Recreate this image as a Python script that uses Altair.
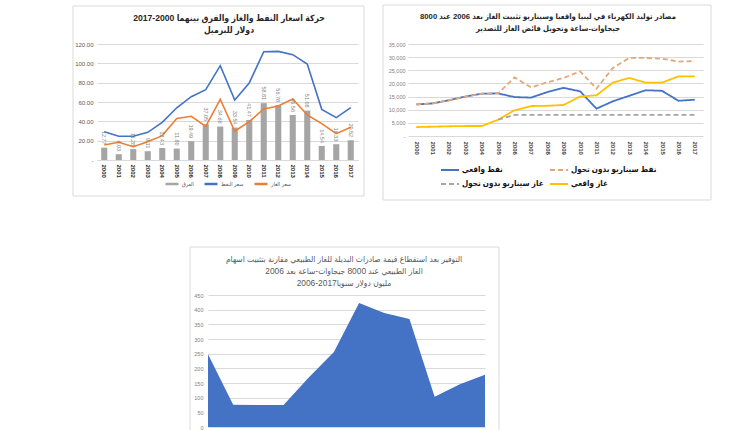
import altair as alt
import pandas as pd

# ---------------- Chart 1: oil / gas prices and the difference ----------------
years = list(range(2000, 2018))
oil_price = [29.3, 24.5, 24.6, 28.6, 39.0, 54.0, 65.5, 72.8, 97.6, 62.0, 79.7, 112.0, 112.4, 109.0, 99.3, 52.4, 43.8, 54.1]
gas_price = [15.5, 18.3, 13.8, 19.0, 25.2, 43.0, 45.2, 34.8, 62.8, 29.7, 39.7, 52.8, 55.9, 63.1, 46.6, 37.6, 27.2, 33.8]
price_diff = [12.77, 6.03, 11.28, 9.11, 12.43, 11.80, 19.49, 37.05, 34.66, 33.54, 41.47, 58.81, 56.78, 46.56, 51.08, 14.54, 16.33, 20.52]
series1 = ["الفرق", "سعر النفط", "سعر الغاز"]
colors1 = ["#a5a5a5", "#4472c4", "#ed7d31"]
y1_ticks = [0, 20, 40, 60, 80, 100, 120]
title1 = ["حركة اسعار النفط والغاز والفرق بينهما 2000-2017", "دولار للبرميل"]

# ---------------- Chart 2: electricity generation sources ----------------
oil_actual = [12000, 12400, 13600, 15000, 16100, 16200, 14800, 14600, 16700, 18300, 17000, 10400, 13200, 15300, 17400, 17200, 13400, 13800]
oil_scenario = [12000, 12400, 13600, 15000, 16100, 16200, 22300, 18500, 20400, 22100, 24600, 18000, 25900, 29700, 29700, 29400, 28300, 28500]
gas_actual = [3400, 3550, 3700, 3800, 3800, 6200, 9800, 11400, 11500, 11800, 15000, 15500, 20300, 22100, 20300, 20300, 22700, 22700]
gas_scenario_years = [2005, 2006, 2007, 2008, 2009, 2010, 2011, 2012, 2013, 2014, 2015, 2016, 2017]
gas_scenario = [6200, 8000, 8000, 8000, 8000, 8000, 8000, 8000, 8000, 8000, 8000, 8000, 8000]
series2 = ["نفط واقعي", "نفط سيناريو بدون تحول", "غاز سيناريو بدون تحول", "غاز واقعي"]
colors2 = ["#4472c4", "#e2a77c", "#a5a5a5", "#ffc000"]
dashes2 = [[1, 0], [5, 3], [5, 3], [1, 0]]
y2_ticks = [0, 5000, 10000, 15000, 20000, 25000, 30000, 35000]
title2 = ["مصادر توليد الكهرباء في ليبيا واقعيا وسيناريو تثبيت الغاز بعد 2006 عند 8000",
          "جيجاوات-ساعة وتحويل فائض الغاز للتصدير"]

# ---------------- Chart 3: savings ----------------
sav_years = [2006, 2007, 2008, 2009, 2010, 2011, 2012, 2013, 2014, 2015, 2016, 2017]
savings = [248, 76, 75, 75, 169, 256, 423, 389, 368, 103, 146, 178]
y3_ticks = [0, 50, 100, 150, 200, 250, 300, 350, 400, 450]
title3 = ["التوفير بعد استقطاع قيمة صادرات البديلة للغاز الطبيعي مقارنة بتثبيت اسهام",
          "الغاز الطبيعي عند 8000 جيجاوات-ساعة بعد 2006",
          "مليون دولار سنويا2017-2006"]

FONT = "Liberation Sans, DejaVu Sans Condensed, DejaVu Sans"
GRID = "#d9d9d9"
one = pd.DataFrame({"f": [0]})


def frame(x1, x2, y1, y2):
    return alt.Chart(one).mark_rect(fillOpacity=0, stroke=GRID, strokeWidth=1).encode(
        x=alt.value(x1), x2=alt.value(x2), y=alt.value(y1), y2=alt.value(y2))


def tline(txt, x, y, size, weight, color):
    return alt.Chart(one).mark_text(text=txt, fontSize=size, fontWeight=weight, color=color,
                                    align="center", baseline="middle", font=FONT).encode(
        x=alt.value(x), y=alt.value(y))


# ---------- chart 1 ----------
df1 = pd.DataFrame({"year": years, "diff": price_diff})
df1l = pd.concat([
    pd.DataFrame({"year": years, "value": oil_price, "series": series1[1]}),
    pd.DataFrame({"year": years, "value": gas_price, "series": series1[2]}),
])
x1 = alt.X("year:O", scale=alt.Scale(type="band", paddingInner=0.58, paddingOuter=0.29),
           axis=alt.Axis(title=None, labelAngle=90, labelFontSize=6, labelFontWeight="bold",
                         labelColor="#262626", ticks=False, domainColor=GRID, labelPadding=4))
ax1 = alt.Axis(title=None, values=y1_ticks,
               labelExpr="datum.value == 0 ? '-' : format(datum.value, '.2f')",
               grid=True, gridColor=GRID, domain=False, ticks=False, labelFontSize=6,
               labelColor="#595959", labelPadding=4)
ys1 = alt.Scale(domain=[0, 120])

bars = alt.Chart(df1).mark_bar(color=colors1[0]).encode(
    x=x1, y=alt.Y("diff:Q", scale=ys1, axis=ax1))
lines1 = alt.Chart(df1l).mark_line(strokeWidth=1.6).encode(
    x=x1, y=alt.Y("value:Q", scale=ys1, axis=ax1),
    color=alt.Color("series:N", scale=alt.Scale(domain=series1, range=colors1),
                    legend=alt.Legend(title=None, orient="none", legendX=67, legendY=132,
                                      direction="horizontal", symbolType="stroke", symbolSize=169,
                                      symbolStrokeWidth=2.5, labelFontSize=5.5, labelColor="#595959",
                                      labelFont=FONT, columnPadding=5, labelOffset=2, padding=0)))
labels1 = alt.Chart(df1).mark_text(angle=90, align="right", baseline="middle", dx=-3,
                                   fontSize=5.5, color="#7f7f7f", font="Liberation Sans").encode(
    x=x1, y=alt.Y("diff:Q", scale=ys1, axis=ax1), text=alt.Text("diff:Q", format=".2f"))

c1 = alt.layer(
    frame(-24, 267, -38, 152), bars, lines1, labels1,
    tline(title1[0], 132, -26, 8.6, "bold", "#262626"),
    tline(title1[1], 132, -14, 8.6, "bold", "#262626"),
).properties(width=261, height=116)

# ---------- chart 2 ----------
df2 = pd.concat([
    pd.DataFrame({"year": years, "value": oil_actual, "series": series2[0]}),
    pd.DataFrame({"year": years, "value": oil_scenario, "series": series2[1]}),
    pd.DataFrame({"year": gas_scenario_years, "value": gas_scenario, "series": series2[2]}),
    pd.DataFrame({"year": years, "value": gas_actual, "series": series2[3]}),
])
x2 = alt.X("year:O", axis=alt.Axis(title=None, labelAngle=90, labelFontSize=6, labelColor="#404040",
                                   labelFontWeight="bold", ticks=False, domain=False, labelPadding=5))
ax2 = alt.Axis(title=None, values=y2_ticks,
               labelExpr="datum.value == 0 ? '-' : format(datum.value, ',')",
               grid=True, gridColor=GRID, domain=False, ticks=False, labelFontSize=5.5,
               labelColor="#7f7f7f", labelPadding=3)
leg2 = alt.Legend(title=None, orient="none", legendX=32, legendY=116, columns=2,
                  direction="horizontal",
                  symbolType="stroke", symbolSize=324, symbolStrokeWidth=2,
                  labelFontSize=8, labelFontWeight="bold", labelColor="#111111", labelFont=FONT,
                  columnPadding=2, rowPadding=0, labelOffset=2, padding=0)
col2 = alt.Color("series:N", scale=alt.Scale(domain=series2, range=colors2), legend=leg2)
dash2 = alt.StrokeDash("series:N", scale=alt.Scale(domain=series2, range=dashes2), legend=leg2)


def line2(name):
    return alt.Chart(df2).transform_filter(alt.datum.series == name).mark_line(strokeWidth=1.8).encode(
        x=x2, y=alt.Y("value:Q", scale=alt.Scale(domain=[0, 35000]), axis=ax2),
        color=col2, strokeDash=dash2)


c2 = alt.layer(
    frame(-25, 303, -39, 156),
    line2(series2[0]), line2(series2[3]), line2(series2[2]), line2(series2[1]),
    tline(title2[0], 140, -27, 7.7, "bold", "#262626"),
    tline(title2[1], 140, -15, 7.7, "bold", "#262626"),
).properties(width=295, height=92)

# ---------- chart 3 ----------
df3 = pd.DataFrame({"year": sav_years, "saving": savings})
area3 = alt.Chart(df3).mark_area(color="#4472c4", opacity=1).encode(
    x=alt.X("year:O", scale=alt.Scale(type="point", padding=0), axis=None),
    y=alt.Y("saving:Q", scale=alt.Scale(domain=[0, 450]),
            axis=alt.Axis(title=None, values=y3_ticks, grid=True, gridColor=GRID, domain=False,
                          ticks=False, labelFontSize=5.5, labelColor="#7f7f7f", labelPadding=5)))
c3 = alt.layer(
    frame(-18, 291, -48, 150), area3,
    tline(title3[0], 136, -36, 8.4, "normal", "#595959"),
    tline(title3[1], 136, -24, 8.4, "normal", "#595959"),
    tline(title3[2], 136, -12, 8.4, "normal", "#595959"),
).properties(width=277, height=132)

spacer = alt.Chart(one).mark_rect(color="white").encode(
    x=alt.value(0), x2=alt.value(1), y=alt.value(0), y2=alt.value(1)).properties(width=1, height=1)

row1 = alt.hconcat(c1, c2, spacing=17).resolve_scale(
    color="independent", strokeDash="independent").resolve_legend(
    color="independent", strokeDash="independent")
row2 = alt.hconcat(spacer, c3, spacing=91)
chart = alt.vconcat(row1, row2, spacing=45).resolve_scale(
    color="independent", strokeDash="independent").resolve_legend(
    color="independent", strokeDash="independent").properties(
    padding={"left": 72, "top": 4, "right": 0, "bottom": 0}
).configure(font=FONT, background="white").configure_view(strokeWidth=0)

chart.save("out.html", embed_options={"renderer": "svg", "actions": False})
